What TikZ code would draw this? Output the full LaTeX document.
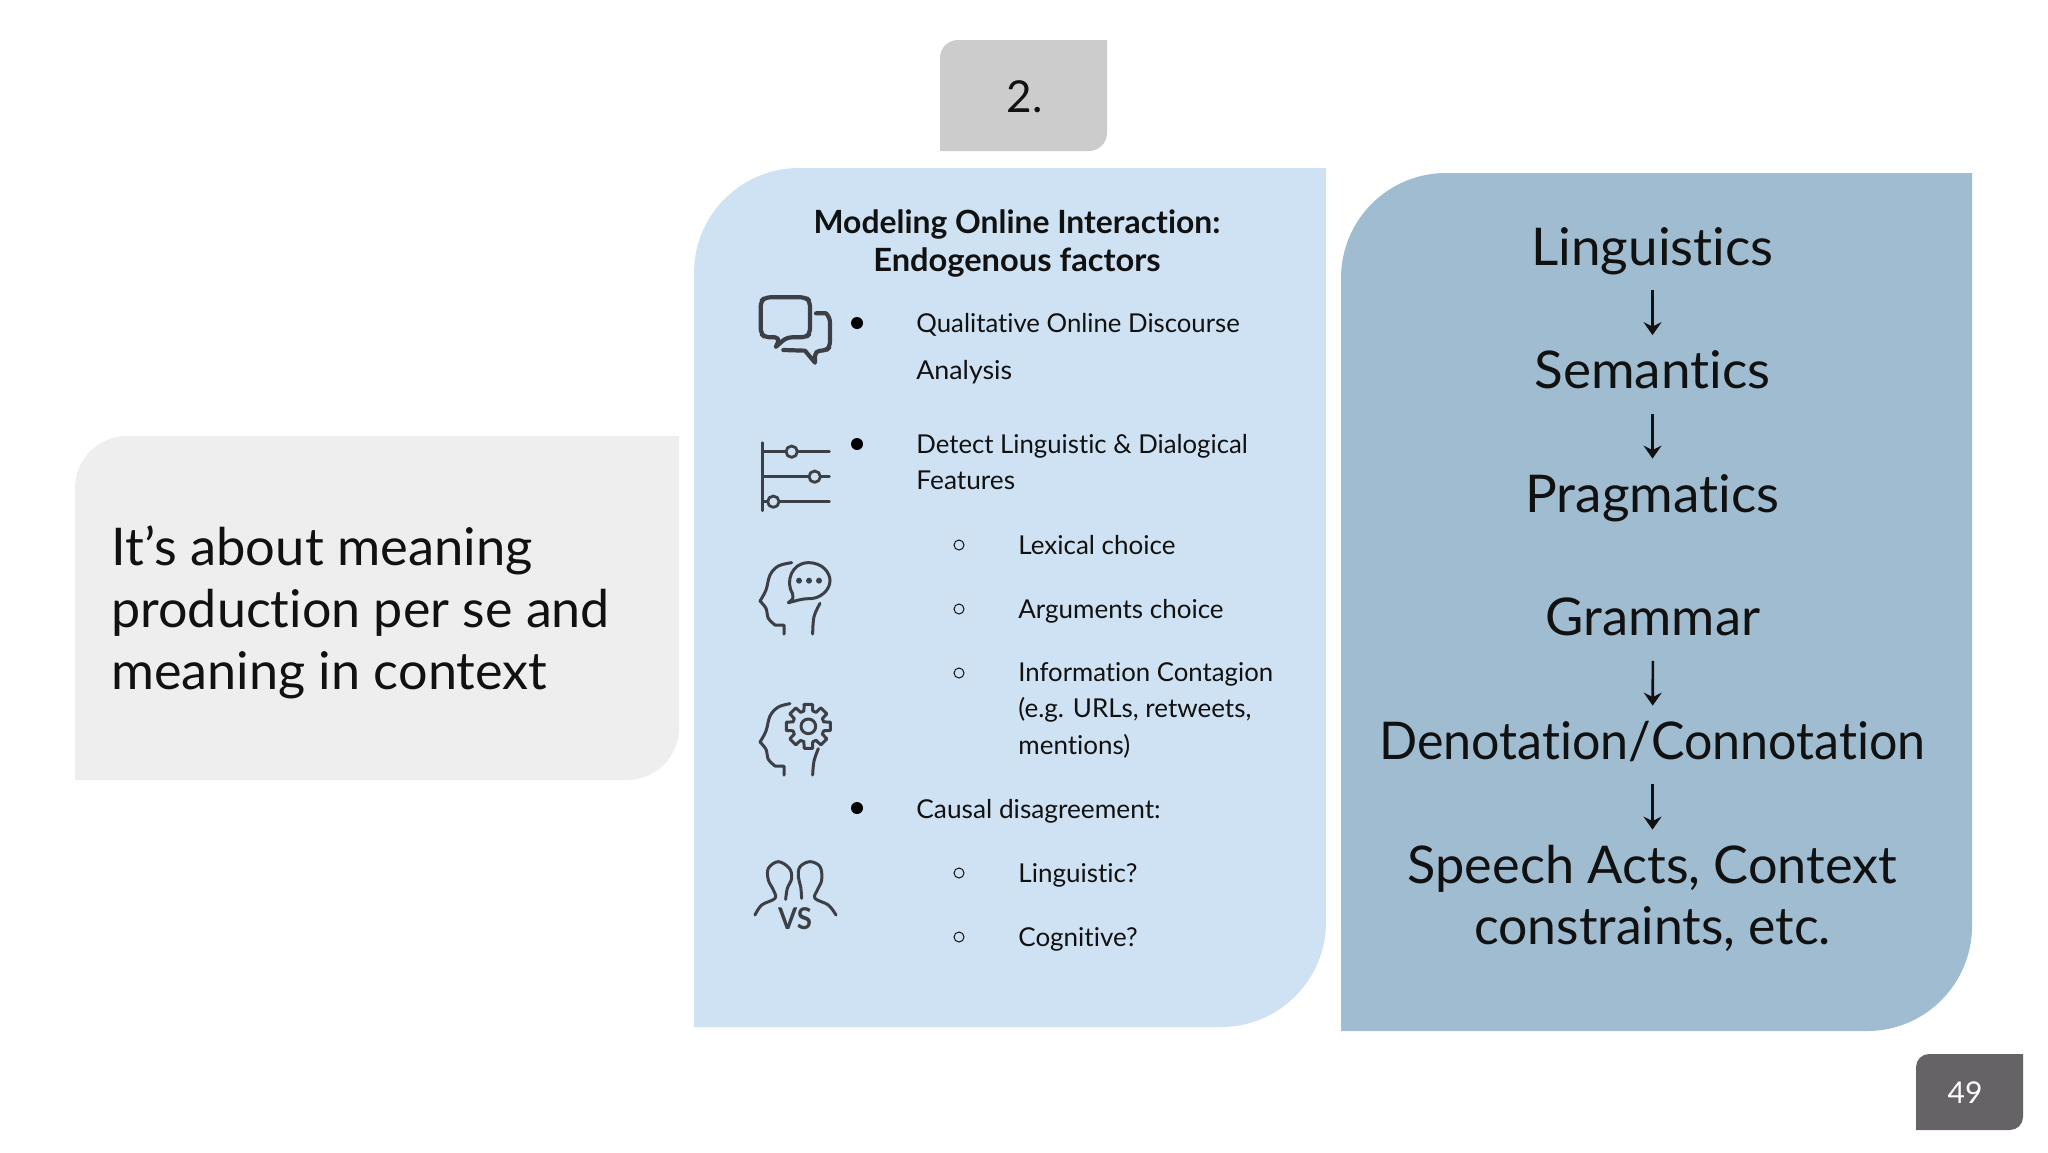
\documentclass[tikz,border=0pt]{standalone}
\usepackage{fontspec}
\setmainfont{Lato}[Ligatures=NoCommon]
\usetikzlibrary{arrows.meta}
\definecolor{leftbg}{HTML}{EEEEEE}
\definecolor{tagbg}{HTML}{CCCCCC}
\definecolor{midbg}{HTML}{CFE2F3}
\definecolor{rightbg}{HTML}{A0BCD0}
\definecolor{pagebg}{HTML}{666366}
\definecolor{ink}{HTML}{111111}
\definecolor{iconc}{HTML}{3C3F45}
\newcommand{\leafbox}[6]{\fill[#1] (#2,#5) [rounded corners=#6*0.5pt] -- (#2,#3) [sharp corners] -- (#4,#3) [rounded corners=#6*0.5pt] -- (#4,#5) [sharp corners] -- cycle;}
\newcommand{\squeeze}[2]{\scalebox{#1}[1]{#2}}
\tikzset{
  big/.style={font=\fontsize{26}{31}\selectfont,text=ink,inner sep=0pt},
  rt/.style={big,anchor=base,text height=36*0.5pt,text depth=10*0.5pt},
  bodyt/.style={font=\fontsize{13}{18}\selectfont,text=ink,inner sep=0pt,anchor=base west},
  head/.style={font=\fontsize{16}{19.5}\selectfont\bfseries,text=ink,inner sep=0pt,align=center},
  arr/.style={-{Stealth[length=6.5pt,width=9pt,inset=2.2pt]},line width=1.3pt,ink,shorten <=7.5pt,shorten >=8.5pt},
  dotb/.style={circle,fill=black,inner sep=0pt,minimum size=6pt},
  dots/.style={circle,draw=ink,line width=0.5pt,inner sep=0pt,minimum size=5pt},
  ic/.style={draw=iconc,line width=1.5pt,line cap=round,line join=round},
  izoom/.style={x=0.16667pt,y=-0.16667pt},
}
\begin{document}
\begin{tikzpicture}[x=0.5pt,y=-0.5pt]
\useasboundingbox (0,0) rectangle (2048,1152);
\fill[white] (0,0) rectangle (2048,1152);
\leafbox{leftbg}{75}{436}{679}{780}{52}
\leafbox{tagbg}{940}{40}{1107}{151}{18}
\leafbox{midbg}{694}{168}{1326}{1027}{105}
\leafbox{rightbg}{1341}{173}{1972}{1031}{105}
\leafbox{pagebg}{1916}{1054}{2023}{1130}{13}

\node[font=\fontsize{22}{25}\selectfont,text=ink,inner sep=0pt] (tag) at (1024.5,96.5) {2.};
\node[big,anchor=base west] (l1) at (111,565.5) {\squeeze{1.01}{It’s about meaning}};
\node[big,anchor=base west] (l2) at (111,627.5) {production per se and};
\node[big,anchor=base west] (l3) at (111,689.5) {\squeeze{1.003}{meaning in context}};
\node[head] (h1) at (1017,224.5) {\squeeze{0.995}{Modeling Online Interaction:}};
\node[head] (h2) at (1017,262.5) {\squeeze{1.02}{Endogenous factors}};

\node[dotb] (b1) at (857,323) {};
\node[dotb] (b2) at (857,444) {};
\node[dotb] (b3) at (857,808) {};
\node[dots] (s1) at (959,545) {};
\node[dots] (s2) at (959,609) {};
\node[dots] (s3) at (959,673) {};
\node[dots] (s4) at (959,873) {};
\node[dots] (s5) at (959,937) {};

\node[bodyt] (t1) at (916,332) {\squeeze{0.99}{Qualitative Online Discourse}};
\node[bodyt] (t2) at (916,379) {\squeeze{1.03}{Analysis}};
\node[bodyt] (t3) at (916,453) {\squeeze{0.99}{Detect Linguistic \& Dialogical}};
\node[bodyt] (t4) at (916,489) {\squeeze{1.01}{Features}};
\node[bodyt] (t5) at (1018,554) {Lexical choice};
\node[bodyt] (t6) at (1018,618) {Arguments choice};
\node[bodyt] (t7) at (1018,681) {\squeeze{0.99}{Information Contagion}};
\node[bodyt] (t8) at (1018,717) {(e.g. URLs, retweets,};
\node[bodyt] (t9) at (1018,754) {mentions)};
\node[bodyt] (t10) at (916,818) {\squeeze{1.01}{Causal disagreement:}};
\node[bodyt] (t11) at (1018,882) {Linguistic?};
\node[bodyt] (t12) at (1018,946) {Cognitive?};

\node[rt] (r1) at (1652.5,265) {\squeeze{1.02}{Linguistics}};
\node[rt] (r2) at (1652.5,388.5) {\squeeze{1.02}{Semantics}};
\node[rt] (r3) at (1652.5,512) {\squeeze{1.02}{Pragmatics}};
\node[rt] (r4) at (1653,635.5) {\squeeze{1.01}{Grammar}};
\node[rt] (r5) at (1652.5,759) {\squeeze{0.965}{Denotation/Connotation}};
\node[rt] (r6) at (1652.5,883) {\squeeze{1.005}{Speech Acts, Context}};
\node[rt] (r7) at (1652.5,944) {\squeeze{0.995}{constraints, etc.}};
\draw[arr] (r1) -- (r2);
\draw[arr] (r2) -- (r3);
\draw[arr] (r4) -- (r5);
\draw[arr] (r5) -- (r6);

\node[font=\fontsize{15}{18}\selectfont,text=white,inner sep=0pt] (pg) at (1965,1093) {49};

% chat icon
\begin{scope}[shift={(740,280)},izoom]
\draw[ic,line width=2.1pt,rounded corners=2.5pt] (108,200) -- (120,172) -- (75,172) -- (62,160) -- (62,65) -- (75,52) -- (198,52) -- (210,65) -- (210,160) -- (198,172) -- (140,172) -- (108,200);
\draw[ic,line width=2.1pt] (228,100) -- (258,100) [rounded corners=2.5pt] -- (270,112) -- (270,200) -- (258,212) -- (225,212) [sharp corners] -- (225,248) -- (195,212) -- (130,210);
% sliders
\draw[ic,line width=1.4pt] (68,488) -- (68,692);
\draw[ic,line width=1.4pt] (68,515) -- (138,515) (172,515) -- (268,515);
\draw[ic,line width=1.4pt] (68,590) -- (207,590) (241,590) -- (268,590);
\draw[ic,line width=1.4pt] (68,665) -- (83,665) (117,665) -- (268,665);
\draw[ic,line width=1.4pt] (155,515) circle (17);
\draw[ic,line width=1.4pt] (224,590) circle (17);
\draw[ic,line width=1.4pt] (100,665) circle (17);
\end{scope}
% head with speech bubble
\begin{scope}[shift={(740,540)},izoom]
\draw[ic] plot[smooth,tension=0.6] coordinates {(155,68) (115,78) (90,105) (78,150) (60,183)};
\draw[ic] plot[smooth,tension=0.5] coordinates {(60,183) (78,205) (85,235) (105,255)} -- (132,255) -- (132,282);
\draw[ic] plot[smooth,tension=0.6] coordinates {(240,190) (222,230) (218,282)};
\draw[ic] (145,188) .. controls (160,178) and (162,170) .. (158,162) .. controls (135,125) and (155,68) .. (205,68) .. controls (250,68) and (270,100) .. (270,122) .. controls (270,150) and (240,178) .. (205,176) .. controls (185,176) and (170,182) .. (145,188) -- cycle;
\fill[iconc] (177,122) circle (9) (207,122) circle (9) (237,122) circle (9);
\end{scope}
% head with gear
\begin{scope}[shift={(740,681)},izoom]
\draw[ic] plot[smooth,tension=0.6] coordinates {(150,68) (115,78) (90,105) (78,150) (60,183)};
\draw[ic] plot[smooth,tension=0.5] coordinates {(60,183) (78,205) (85,235) (105,255)} -- (132,255) -- (132,282);
\draw[ic] plot[smooth,tension=0.6] coordinates {(235,203) (222,240) (218,282)};
\begin{scope}[shift={(205,136)}]
\draw[ic,line width=1.5pt] (0,0) circle (22);
\foreach \a in {0,45,...,315}{
  \draw[ic,line width=1.5pt] (\a-11:67) -- (\a+11:67) -- (\a+16:48) -- (\a+29:48) -- (\a+34:67);
}
\end{scope}
\end{scope}
% versus icon
\begin{scope}[shift={(740,840)},izoom]
\draw[ic,line width=1.5pt] plot[smooth,tension=0.6] coordinates {(45,225) (65,195) (105,175) (100,150) (85,120) (85,85) (115,65) (148,85) (155,115) (142,145) (137,178)};
\draw[ic,line width=1.5pt] plot[smooth,tension=0.6] coordinates {(288,225) (265,195) (225,175) (232,150) (245,120) (240,80) (210,65) (180,80) (175,110) (182,140) (185,175)};
\node[font=\fontsize{15}{16}\selectfont\bfseries,text=iconc,inner sep=0pt] (vs) at (165,237) {\squeeze{0.92}{VS}};
\end{scope}
\end{tikzpicture}
\end{document}
